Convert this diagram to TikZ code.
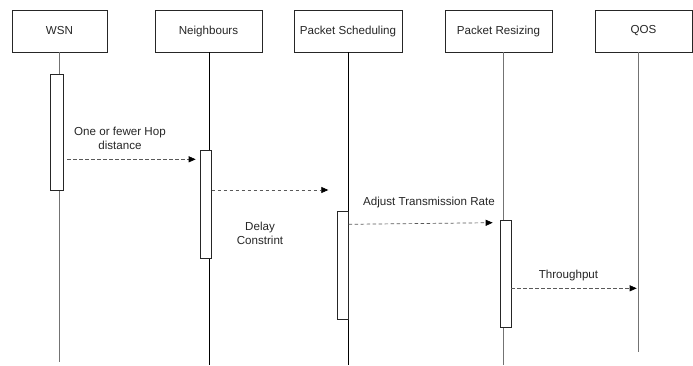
\documentclass[tikz,border=0pt]{standalone}
\usepackage{fontspec}
\setmainfont{Liberation Sans}
\usetikzlibrary{arrows.meta}

\begin{document}
\begin{tikzpicture}[x=1pt,y=-1pt,
  font=\fontsize{11.6}{14}\selectfont,
  header/.style={draw=black!85, line width=0.8pt, minimum height=42pt,
                 inner sep=0pt, text=black!85},
  lifeline/.style={line width=0.8pt},
  actbar/.style={draw=black!85, fill=white, line width=0.8pt,
                 inner sep=0pt},
  msg/.style={draw=black!65, line width=0.7pt,
              dash pattern=on 3.5pt off 2.5pt,
              -{Triangle[length=7pt,width=6pt,color=black,fill=black]}},
  lbl/.style={align=center, inner sep=0pt, text=black!85}
]
\useasboundingbox (0,0) rectangle (693,365);

% participant headers
\node[header, minimum width=95pt]  (wsn) at (59.5,31)  {WSN};
\node[header, minimum width=107pt] (nb)  at (208.5,31) {Neighbours};
\node[header, minimum width=108pt] (ps)  at (348,31)   {Packet Scheduling};
\node[header, minimum width=107pt] (pr)  at (498.5,31) {Packet Resizing};
\node[header, minimum width=97pt]  (qos) at (643.5,31) {QOS};

% lifeline ends
\coordinate (wsnEnd) at (59,362);
\coordinate (nbEnd)  at (209,365);
\coordinate (psEnd)  at (348,365);
\coordinate (prEnd)  at (503,365);
\coordinate (qosEnd) at (638,352);

% lifelines
\draw[lifeline, black!55] (wsn.south -| wsnEnd) -- (wsnEnd);
\draw[lifeline, black]    (nb.south -| nbEnd)   -- (nbEnd);
\draw[lifeline, black]    (ps.south -| psEnd)   -- (psEnd);
\draw[lifeline, black!55] (pr.south -| prEnd)   -- (prEnd);
\draw[lifeline, black!55] (qos.south -| qosEnd) -- (qosEnd);

% activation bars
\node[actbar, minimum width=12.6pt, minimum height=116pt] (barW) at (57,132)      {};
\node[actbar, minimum width=11pt,   minimum height=108pt] (barN) at (206.2,204.8) {};
\node[actbar, minimum width=11.4pt, minimum height=108pt] (barS) at (343,265)     {};
\node[actbar, minimum width=11pt,   minimum height=107pt] (barR) at (505.8,273.7) {};

% message end points
\coordinate (m1a) at (67,159.3);    \coordinate (m1b) at (195.7,159.3);
\coordinate (m2a) at (211.7,190);   \coordinate (m2b) at (328.3,190);
\coordinate (m3a) at (348.7,224.3); \coordinate (m3b) at (492.7,222.7);
\coordinate (m4a) at (511.3,288.3); \coordinate (m4b) at (636.7,288.3);

% messages
\draw[msg] (m1a) -- (m1b);
\draw[msg] (m2a) -- (m2b);
\draw[msg] (m3a) -- (m3b);
\draw[msg] (m4a) -- (m4b);

% message labels
\node[lbl] (l1) at (120,138)   {One or fewer Hop\\distance};
\node[lbl] (l2) at (260,233)   {Delay\\Constrint};
\node[lbl] (l3) at (429,202)   {Adjust Transmission Rate};
\node[lbl] (l4) at (568.5,275) {Throughput};
\end{tikzpicture}
\end{document}
